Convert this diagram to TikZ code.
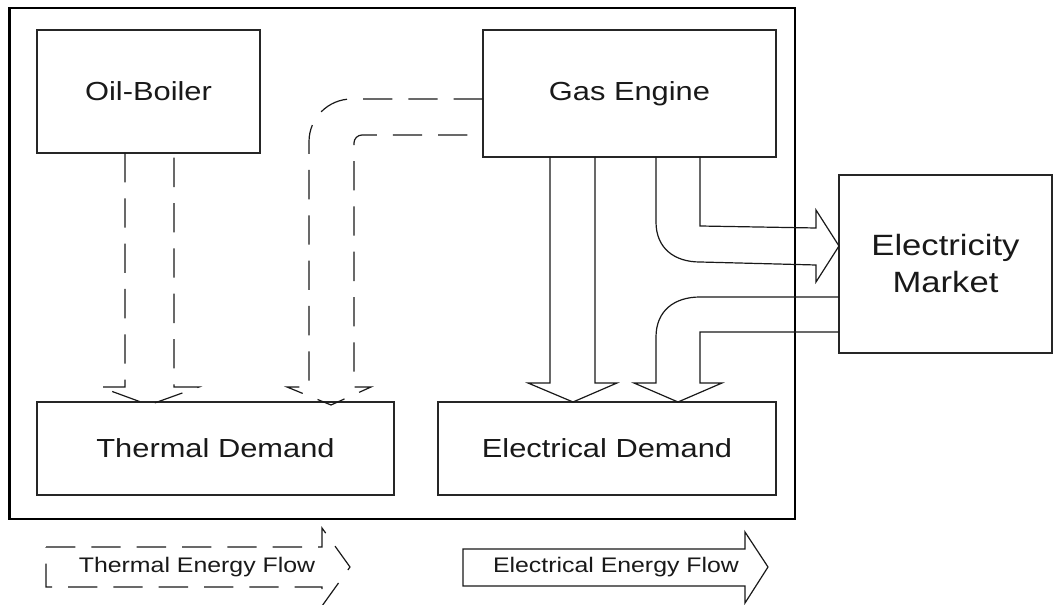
\documentclass[tikz,border=0pt]{standalone}
\usepackage{fontspec}
\setmainfont{Liberation Sans}[FakeStretch=1.18]
\usepackage{tikz}
\tikzstyle{block} = [draw=black!85, line width=1.1pt, rectangle, inner sep=0pt, text=black!90, font=\fontsize{19.6}{23}\selectfont]
\tikzstyle{keytext} = [inner sep=0pt, text=black!90, font=\fontsize{15.8}{19}\selectfont]
\tikzstyle{heatflow} = [line width=0.9pt, color=black!90, dash pattern={on 22pt off 12pt}]
\tikzstyle{powerflow} = [line width=0.9pt, color=black!90]

\begin{document}
\begin{tikzpicture}[x=0.75pt,y=0.75pt,yscale=-1,xscale=1]
\useasboundingbox (0,0) rectangle (1056,605);

%Frame
\draw [line width=2.2pt] (9.5,8) rectangle (795,519);

%Blocks
\node (boiler) [block, minimum width=167.25pt, minimum height=92.25pt] at (148.5,91.5) {Oil-Boiler};
\node (engine) [block, minimum width=219.75pt, minimum height=95.25pt] at (629.5,93.5) {Gas Engine};
\node (heat) [block, minimum width=267.75pt, minimum height=69.75pt] at (215.5,448.5) {Thermal Demand};
\node (power) [block, minimum width=253.5pt, minimum height=69.75pt] at (607,448.5) {Electrical Demand};
\node (market) [block, minimum width=159.75pt, minimum height=133.5pt, align=center, font=\fontsize{22}{27.75}\selectfont] at (945.5,264) {Electricity\\Market};

%Thermal flows
\draw [heatflow] (125,153) -- (125,387) -- (100,387) -- (149,405) -- (199,387) -- (174,387) -- (174,153) ;
\draw [heatflow] (483,99) [rounded corners=32] -- (309,99) [sharp corners] -- (309,387) -- (287,387) -- (331,405) -- (371,387) -- (354,387) [rounded corners=6] -- (354,135) [sharp corners] -- (483,135) ;

%Electrical flows
\draw [powerflow] (550,157) -- (550,383) -- (528,383) -- (573,402) -- (617,383) -- (595,383) -- (595,157) ;
\draw [powerflow] (656,157) -- (656,222) .. controls (656,248) and (674,262) .. (700,262) -- (816,265) -- (816,282) -- (839,246) -- (816,210) -- (816,228) -- (700,226) -- (700,157) ;
\draw [powerflow] (839,297) -- (700,297) .. controls (674,297) and (656,311) .. (656,337) -- (656,383) -- (634,383) -- (678,402) -- (722,383) -- (700,383) -- (700,332) -- (839,332) ;

%Legend
\draw [heatflow] (46,547) -- (322,547) -- (322,528) -- (350,567) -- (322,606) -- (322,587) -- (46,587) -- cycle ;
\node (heatkey) [keytext] at (197,567) {Thermal Energy Flow};
\draw [powerflow] (463,549) -- (745,549) -- (745,532) -- (768,567) -- (745,603) -- (745,586) -- (463,586) -- cycle ;
\node (powerkey) [keytext] at (616,567) {Electrical Energy Flow};

\end{tikzpicture}
\end{document}
